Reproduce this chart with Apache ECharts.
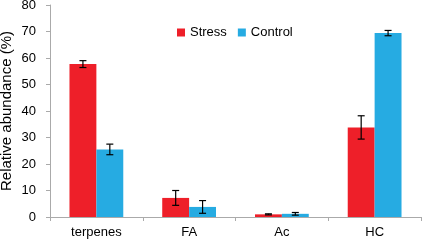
<!DOCTYPE html>
<html>
<head>
<meta charset="utf-8">
<script src="https://cdn.jsdelivr.net/npm/echarts@6/dist/echarts.min.js"></script>
<style>html,body{margin:0;padding:0;background:#fff}#main{width:422px;height:240px}</style>
</head>
<body>
<div id="main"></div>
<script>
var categories = ['terpenes', 'FA', 'Ac', 'HC'];
var stressVals = [57.7, 7.2, 1.0, 33.8];
var stressErr = [1.3, 2.8, 0.2, 4.4];
var controlVals = [25.5, 3.8, 1.2, 69.4];
var controlErr = [2.0, 2.4, 0.5, 1.0];
var yTicks = [0, 10, 20, 30, 40, 50, 60, 70, 80];

var myChart = echarts.init(document.getElementById('main'));
var fnt = 'Liberation Sans, Arial, sans-serif';

function errSeries(name, vals, errs, idx) {
	var data = vals.map(function (v, i) { return [i, v - errs[i], v + errs[i]]; });
	return {
		name: name + '_err',
		type: 'custom',
		z: 10,
		renderItem: function (params, api) {
			var ci = api.value(0);
			var lo = api.coord([ci, api.value(1)]);
			var hi = api.coord([ci, api.value(2)]);
			var bw = api.size([1, 0])[0];
			// two bars side by side in each category
			var barW = bw * 0.29;
			var x = lo[0] + (idx === 0 ? -barW / 2 : barW / 2);
			var cap = 3.5;
			var st = { stroke: '#000', lineWidth: 1.2 };
			return {
				type: 'group',
				children: [
					{ type: 'line', shape: { x1: x, y1: lo[1], x2: x, y2: hi[1] }, style: st },
					{ type: 'line', shape: { x1: x - cap, y1: lo[1], x2: x + cap, y2: lo[1] }, style: st },
					{ type: 'line', shape: { x1: x - cap, y1: hi[1], x2: x + cap, y2: hi[1] }, style: st }
				]
			};
		},
		data: data
	};
}

var option = {
	animation: false,
	textStyle: { fontFamily: fnt },
	legend: {
		data: ['Stress', 'Control'],
		left: 172,
		top: 21,
		itemWidth: 8,
		itemHeight: 8,
		itemGap: 11,
		icon: 'rect',
		textStyle: { fontSize: 13, color: '#000', fontFamily: fnt }
	},
	grid: { left: 50, right: 1, top: 5, bottom: 23, containLabel: false, outerBoundsMode: 'none' },
	xAxis: {
		type: 'category',
		data: categories,
		axisLine: { lineStyle: { color: '#aaa', width: 1 } },
		axisTick: { show: true, length: 4, lineStyle: { color: '#aaa' } },
		axisLabel: { fontSize: 13, color: '#000', margin: 9, fontFamily: fnt }
	},
	yAxis: {
		type: 'value',
		min: 0,
		max: 80,
		interval: 10,
		name: 'Relative abundance (%)',
		nameLocation: 'middle',
		nameGap: 36,
		nameMoveOverlap: false,
		nameTextStyle: { fontSize: 15, color: '#000', fontFamily: fnt },
		splitLine: { show: false },
		axisLine: { show: true, lineStyle: { color: '#aaa' } },
		axisTick: { show: true, length: 4, lineStyle: { color: '#aaa' } },
		axisLabel: { fontSize: 13, color: '#000', margin: 14, fontFamily: fnt,
			formatter: function (v) { return yTicks.indexOf(v) >= 0 ? String(v) : ''; } }
	},
	series: [
		{
			name: 'Stress',
			type: 'bar',
			data: stressVals,
			barWidth: '29%',
			barGap: '0%',
			itemStyle: { color: '#ee1f29' }
		},
		{
			name: 'Control',
			type: 'bar',
			data: controlVals,
			barWidth: '29%',
			barGap: '0%',
			itemStyle: { color: '#26abe2' }
		},
		errSeries('Stress', stressVals, stressErr, 0),
		errSeries('Control', controlVals, controlErr, 1)
	]
};
myChart.setOption(option);
</script>
</body>
</html>
